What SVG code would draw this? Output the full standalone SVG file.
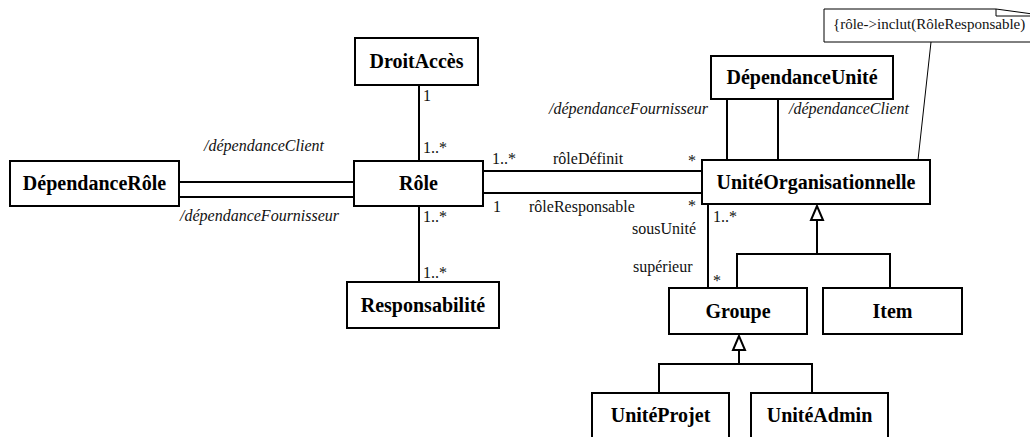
<svg xmlns="http://www.w3.org/2000/svg" width="1030" height="437" viewBox="0 0 1030 437" font-family="'Liberation Serif', 'Times New Roman', Times, 'DejaVu Serif', serif">
<style>
.box{fill:#fff;stroke:#000;stroke-width:2}
.ln{fill:none;stroke:#000;stroke-width:2}
.thin{fill:none;stroke:#000;stroke-width:1}
.tri{fill:#fff;stroke:#000;stroke-width:2;stroke-linejoin:miter}
text{font-family:'Liberation Serif','Times New Roman',Times,'DejaVu Serif',serif}
.name{font-weight:bold;font-size:20px;text-anchor:middle;fill:#000}
.lbl{font-size:16px;fill:#111}
.it{font-style:italic;font-size:16px;fill:#111}
.note{font-size:15px;fill:#111}
</style>
<rect width="1030" height="437" fill="#fff"/>
<g id="connectors">
  <line class="ln" x1="419" y1="85" x2="419" y2="161"/>
  <line class="ln" x1="419" y1="206" x2="419" y2="282"/>
  <line class="ln" x1="179" y1="182" x2="354" y2="182"/>
  <line class="ln" x1="179" y1="197" x2="354" y2="197"/>
  <line class="ln" x1="483" y1="171" x2="702" y2="171"/>
  <line class="ln" x1="483" y1="193" x2="702" y2="193"/>
  <line class="ln" x1="727" y1="99" x2="727" y2="160"/>
  <line class="ln" x1="778" y1="99" x2="778" y2="160"/>
  <line class="thin" x1="931" y1="42" x2="918" y2="160"/>
  <line class="ln" x1="708" y1="204" x2="708" y2="288"/>
  <polyline class="ln" points="737,288 737,254 890,254 890,288"/>
  <line class="ln" x1="817" y1="220" x2="817" y2="254"/>
  <polygon class="tri" points="817,206 811,220 823,220"/>
  <polyline class="ln" points="659,393 659,364 812,364 812,393"/>
  <line class="ln" x1="739" y1="350" x2="739" y2="364"/>
  <polygon class="tri" points="739,336 733,350 745,350"/>
  <text class="lbl" x="423" y="101">1</text>
  <text class="lbl" x="423" y="153">1..*</text>
  <text class="lbl" x="423" y="222">1..*</text>
  <text class="lbl" x="423" y="278">1..*</text>
  <text class="it" x="204" y="151">/dépendanceClient</text>
  <text class="it" x="180" y="221">/dépendanceFournisseur</text>
  <text class="lbl" x="492" y="164">1..*</text>
  <text class="lbl" x="553" y="164">rôleDéfinit</text>
  <text class="lbl" x="688" y="166">*</text>
  <text class="lbl" x="493" y="212">1</text>
  <text class="lbl" x="529" y="212">rôleResponsable</text>
  <text class="lbl" x="688" y="211">*</text>
  <text class="it" x="549" y="114">/dépendanceFournisseur</text>
  <text class="it" x="789" y="114">/dépendanceClient</text>
  <text class="lbl" x="713" y="222">1..*</text>
  <text class="lbl" x="632" y="234">sousUnité</text>
  <text class="lbl" x="633" y="272">supérieur</text>
  <text class="lbl" x="713" y="286">*</text>
</g>
<g id="note">
  <path class="thin" d="M824,9 L996,9 L1040,15 L1040,42 L824,42 Z" fill="#fff"/>
  <polyline class="thin" points="996,9 996,16 1040,16"/>
  <text class="note" x="833" y="29">{rôle-&gt;inclut(RôleResponsable)</text>
</g>
<g id="DroitAcces">
  <rect class="box" x="355" y="38" width="123" height="47"/>
  <text class="name" x="416.5" y="68">DroitAccès</text>
</g>
<g id="DependanceRole">
  <rect class="box" x="10" y="161" width="169" height="45"/>
  <text class="name" x="94.5" y="190">DépendanceRôle</text>
</g>
<g id="Role">
  <rect class="box" x="354" y="161" width="129" height="45"/>
  <text class="name" x="418.5" y="190">Rôle</text>
</g>
<g id="Responsabilite">
  <rect class="box" x="347" y="282" width="152" height="46"/>
  <text class="name" x="423" y="312">Responsabilité</text>
</g>
<g id="DependanceUnite">
  <rect class="box" x="711" y="56" width="182" height="43"/>
  <text class="name" x="802" y="84">DépendanceUnité</text>
</g>
<g id="UniteOrganisationnelle">
  <rect class="box" x="702" y="160" width="228" height="44"/>
  <text class="name" x="816" y="189">UnitéOrganisationnelle</text>
</g>
<g id="Groupe">
  <rect class="box" x="669" y="288" width="138" height="46"/>
  <text class="name" x="738" y="318">Groupe</text>
</g>
<g id="Item">
  <rect class="box" x="823" y="288" width="139" height="46"/>
  <text class="name" x="892.5" y="318">Item</text>
</g>
<g id="UniteProjet">
  <rect class="box" x="592" y="393" width="137" height="60"/>
  <text class="name" x="660.5" y="422">UnitéProjet</text>
</g>
<g id="UniteAdmin">
  <rect class="box" x="751" y="393" width="137" height="60"/>
  <text class="name" x="819.5" y="422">UnitéAdmin</text>
</g>
</svg>
